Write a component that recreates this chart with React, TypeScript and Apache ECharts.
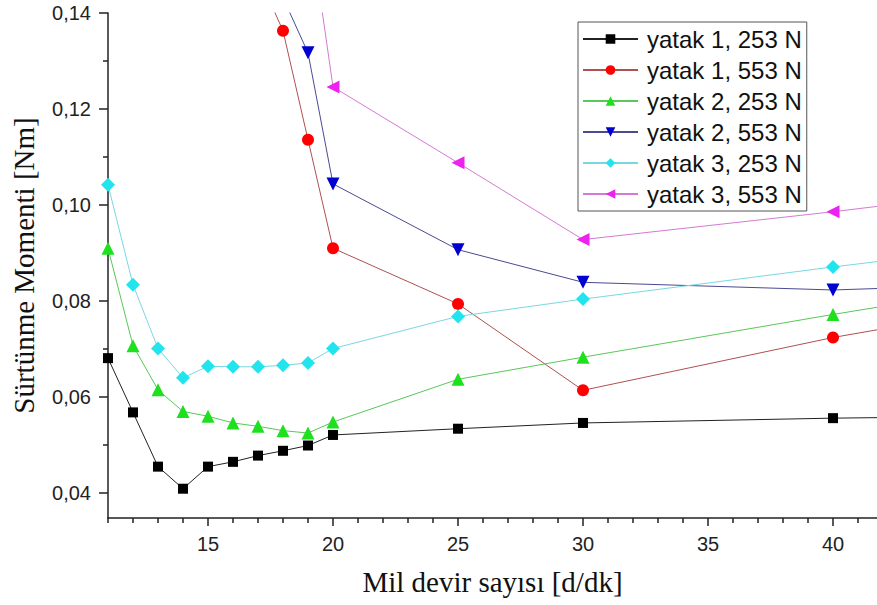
import React, { useEffect, useRef } from "react";
import * as echarts from "echarts";

// ---- data ----
const seriesNames = [
  "yatak 1, 253 N",
  "yatak 1, 553 N",
  "yatak 2, 253 N",
  "yatak 2, 553 N",
  "yatak 3, 253 N",
  "yatak 3, 553 N",
];

const speedsFull = [11, 12, 13, 14, 15, 16, 17, 18, 19, 20, 25, 30, 40, 50];
const y1_253 = [0.0681, 0.0568, 0.0455, 0.0409, 0.0455, 0.0465, 0.0478, 0.0488, 0.0499, 0.0521, 0.0534, 0.0546, 0.0556, 0.0562];
const y2_253 = [0.091, 0.0707, 0.0615, 0.057, 0.056, 0.0546, 0.0539, 0.053, 0.0525, 0.0548, 0.0637, 0.0683, 0.0772, 0.0857];
const y3_253 = [0.1042, 0.0834, 0.0701, 0.064, 0.0664, 0.0663, 0.0663, 0.0666, 0.0671, 0.0701, 0.0768, 0.0804, 0.0871, 0.0934];

const speeds1_553 = [17, 18, 19, 20, 25, 30, 40, 50];
const y1_553 = [0.148, 0.1363, 0.1136, 0.091, 0.0794, 0.0614, 0.0724, 0.0815];
const speeds2_553 = [18, 19, 20, 25, 30, 40, 50];
const y2_553 = [0.1432, 0.1317, 0.1044, 0.0907, 0.0839, 0.0823, 0.084];
const speeds3_553 = [19, 20, 25, 30, 40, 50];
const y3_553 = [0.161, 0.1246, 0.1088, 0.0928, 0.0986, 0.1049];

const xMajorTicks = [15, 20, 25, 30, 35, 40];
const xMinorTicks = [11, 12, 13, 14, 16, 17, 18, 19, 21, 22, 23, 24, 26, 27, 28, 29, 31, 32, 33, 34, 36, 37, 38, 39, 41];
const yMajorTicks = [0.04, 0.06, 0.08, 0.1, 0.12, 0.14];
const yMinorTicks = [0.05, 0.07, 0.09, 0.11, 0.13];
const yTickLabels = ["0,04", "0,06", "0,08", "0,10", "0,12", "0,14"];

const xTitle = "Mil devir sayısı [d/dk]";
const yTitle = "Sürtünme Momenti [Nm]";

const xMin = 11;
const xMax = 41.76;
const yMin = 0.0348;
const yMax = 0.14;

const symbolColors = ["#000000", "#ff0000", "#1ee01e", "#0000d0", "#22e4ee", "#ee22ee"];
const lineColors = ["#222222", "#b05050", "#58c858", "#4a4a90", "#78d8e2", "#d47ad4"];
const symbols = ["rect", "circle", "triangle", "triangle", "diamond", "triangle"];
const symbolRotates = [0, 0, 0, 180, 0, 90];
const symbolSizes = [10, 12, 13, 13, 14, 13];

const zip = (xs: number[], ys: number[]) => xs.map((x, i) => [x, ys[i]]);

export default function App() {
  const ref = useRef<HTMLDivElement>(null);
  useEffect(() => {
    if (!ref.current) return;
    const chart = echarts.init(ref.current, null, { renderer: "svg" });
    const datasets = [
      zip(speedsFull, y1_253),
      zip(speeds1_553, y1_553),
      zip(speedsFull, y2_253),
      zip(speeds2_553, y2_553),
      zip(speedsFull, y3_253),
      zip(speeds3_553, y3_553),
    ];
    const axisColor = "#222";
    const labelFont = "'Liberation Sans', Arial, sans-serif";
    const titleFont = "'Liberation Serif', 'Times New Roman', serif";
    chart.setOption({
      animation: false,
      backgroundColor: "#ffffff",
      grid: { left: 108, top: 13, right: 0, bottom: 87, containLabel: false },
      legend: {
        orient: "vertical",
        left: 578,
        top: 22,
        padding: [5, 5, 5, 4],
        itemGap: 7,
        itemWidth: 55,
        itemHeight: 12,
        borderColor: "#555",
        borderWidth: 1,
        borderRadius: 0,
        data: seriesNames,
        textStyle: {
          fontFamily: labelFont,
          fontSize: 24,
          lineHeight: 24,
          color: "#111",
          padding: [0, 0, 0, 4],
        },
      },
      xAxis: [
        {
          type: "value",
          min: xMin,
          max: xMax,
          position: "bottom",
          axisLine: { show: true, onZero: false, lineStyle: { color: axisColor, width: 1.5 } },
          axisTick: { show: true, customValues: xMajorTicks, length: 8, lineStyle: { color: axisColor, width: 1.5 } },
          axisLabel: {
            customValues: xMajorTicks,
            margin: 16,
            fontFamily: labelFont,
            fontSize: 20,
            color: "#222",
          },
          splitLine: { show: false },
          name: xTitle,
          nameLocation: "middle",
          nameGap: 49,
          nameTextStyle: { fontFamily: titleFont, fontSize: 29, color: "#111" },
        },
        {
          type: "value",
          min: xMin,
          max: xMax,
          position: "bottom",
          axisLine: { show: false, onZero: false },
          axisTick: { show: true, customValues: xMinorTicks, length: 5, lineStyle: { color: axisColor, width: 1.5 } },
          axisLabel: { show: false },
          splitLine: { show: false },
        },
      ],
      yAxis: [
        {
          type: "value",
          min: yMin,
          max: yMax,
          position: "left",
          axisLine: { show: true, onZero: false, lineStyle: { color: axisColor, width: 1.5 } },
          axisTick: { show: true, customValues: yMajorTicks, length: 9, lineStyle: { color: axisColor, width: 1.5 } },
          axisLabel: {
            customValues: yMajorTicks,
            margin: 17,
            fontFamily: labelFont,
            fontSize: 20,
            color: "#222",
            formatter: (v: number) => {
              const i = yMajorTicks.findIndex((t) => Math.abs(t - v) < 1e-9);
              return i >= 0 ? yTickLabels[i] : "";
            },
          },
          splitLine: { show: false },
          name: yTitle,
          nameLocation: "middle",
          nameGap: 70,
          nameTextStyle: { fontFamily: titleFont, fontSize: 29, color: "#111" },
        },
        {
          type: "value",
          min: yMin,
          max: yMax,
          position: "left",
          axisLine: { show: false, onZero: false },
          axisTick: { show: true, customValues: yMinorTicks, length: 5, lineStyle: { color: axisColor, width: 1.5 } },
          axisLabel: { show: false },
          splitLine: { show: false },
        },
      ],
      series: seriesNames.map((name, i) => ({
        name,
        type: "line",
        xAxisIndex: 0,
        yAxisIndex: 0,
        data: datasets[i],
        clip: true,
        symbol: symbols[i],
        symbolSize: symbolSizes[i],
        symbolRotate: symbolRotates[i],
        showAllSymbol: true,
        itemStyle: { color: symbolColors[i], borderWidth: 0 },
        lineStyle: { color: lineColors[i], width: 1 },
      })),
    });
    return () => chart.dispose();
  }, []);
  return (
    <div
      ref={ref}
      style={{ position: "fixed", left: 0, top: 0, width: 877, height: 605, background: "#fff" }}
    />
  );
}
